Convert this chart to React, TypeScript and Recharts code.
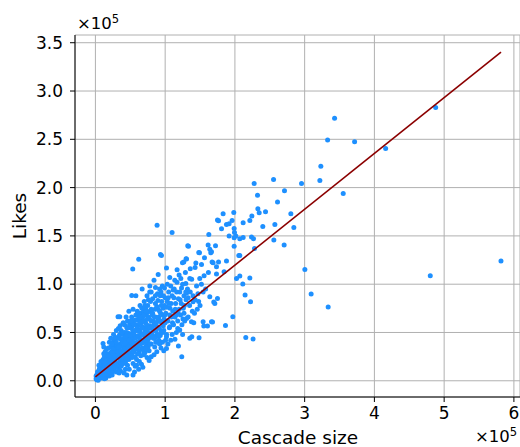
import React from 'react';
import { ScatterChart, Scatter, XAxis, YAxis, CartesianGrid } from 'recharts';

// cascade size vs. likes, one [cascadeSize, likes] pair per post
const xTicks = [0, 100000, 200000, 300000, 400000, 500000, 600000];
const yTicks = [0, 50000, 100000, 150000, 200000, 250000, 300000, 350000];

// small cascades, bulk of the posts
const denseCore: [number, number][] = [
  [1000, 2000], [2000, 1000], [3000, 4000], [4000, 2000], [5000, 6000], [6000, 3000], [7000, 8000], [8000, 5000],
  [9000, 3000], [2000, 6000], [5000, 11000], [8000, 12000], [3000, 9000], [10000, 7000], [7000, 15000], [1000, 5000],
  [9000, 10000], [6000, 13000], [10000, 16000], [4000, 500], [3000, 1000], [6000, 7000], [9000, 6000], [12000, 4000],
  [11000, 5000], [12000, 9000], [13000, 14000], [14000, 6000], [15000, 11000], [16000, 18000], [17000, 8000], [18000, 13000],
  [19000, 20000], [11000, 22000], [13000, 25000], [15000, 3000], [17000, 24000], [19000, 10000], [20000, 15000], [12000, 18000],
  [14000, 30000], [18000, 28000], [16000, 12000], [20000, 5000], [10900, 38700], [14000, 10000], [16000, 7000], [18000, 17000],
  [21000, 12000], [22000, 19000], [23000, 8000], [24000, 25000], [25000, 16000], [26000, 31000], [27000, 10000], [28000, 21000],
  [29000, 14000], [30000, 27000], [22000, 35000], [25000, 40000], [28000, 36000], [21000, 28000], [24000, 6000], [26000, 22000],
  [29000, 33000], [23000, 30000], [27000, 43000], [30000, 9000], [21000, 9000], [23000, 15000], [25000, 11000], [27000, 18000],
  [31000, 18000], [32000, 24000], [33000, 13000], [34000, 32000], [35000, 20000], [36000, 38000], [37000, 15000], [38000, 27000],
  [39000, 22000], [40000, 35000], [32000, 44000], [32400, 66300], [34900, 66300], [35000, 48000], [38000, 42000], [39600, 59400],
  [33000, 28000], [36000, 10000], [39000, 31000], [31000, 37000], [37000, 52000], [34000, 8000], [40000, 18000], [29000, 24000],
  [41000, 25000], [42000, 30000], [43000, 19000], [44000, 40000], [45000, 27000], [46000, 33000], [47000, 45000], [48000, 22000],
  [49000, 37000], [50000, 29000], [42000, 50000], [42000, 57700], [45000, 55000], [48000, 49000], [43000, 12000], [46000, 16000],
  [50000, 42000], [44000, 35000], [47000, 24000], [41000, 44000], [49000, 58000], [45000, 6000], [43000, 33000], [46000, 38000],
  [51000, 35000], [52000, 28000], [53000, 44000], [54000, 31000], [55000, 50000], [56000, 38000], [57000, 25000], [58000, 46000],
  [59000, 33000], [60000, 40000], [52000, 56000], [55000, 62000], [58000, 58000], [53900, 5900], [54000, 18000], [57000, 15000],
  [60000, 52000], [53000, 36000], [56000, 47000], [59000, 22000], [51000, 48000], [58000, 68000], [51000, 26000], [57000, 34000],
  [61000, 36000], [62000, 45000], [63000, 30000], [64000, 52000], [65000, 41000], [66000, 60000], [67000, 34000], [68000, 48000],
  [69000, 27000], [70000, 55000], [62000, 65000], [65000, 70000], [68000, 66000], [63000, 20000], [66000, 17000], [70000, 40000],
  [61000, 57000], [64000, 38000], [67000, 56000], [69000, 72000], [70000, 30000], [62000, 38000], [66000, 33000], [68000, 42000],
  [71000, 45000], [72000, 60000], [73000, 36000], [74000, 52000], [75000, 42000], [76000, 66000], [77000, 31000], [78000, 57000],
  [79000, 48000], [80000, 62000], [72000, 75000], [75000, 78000], [78000, 72000], [74000, 24000], [77000, 21000], [80000, 38000],
  [73000, 68000], [76000, 50000], [79000, 82000], [71000, 29000], [72000, 48000], [74000, 40000], [76000, 55000], [78000, 46000],
  [81000, 50000], [82000, 70000], [83000, 44000], [84000, 58000], [85000, 35000], [86000, 66000], [87000, 52000], [88000, 77000],
  [89000, 40000], [90000, 63000], [82000, 85000], [86000, 88000], [89000, 90000], [84000, 27000], [88000, 30000], [83000, 62000],
  [87000, 46000], [90000, 74000], [82000, 54000], [85000, 60000], [88000, 48000],
  [91000, 55000], [92000, 72000], [93000, 47000], [94000, 61000], [95000, 82000], [96000, 40000], [97000, 68000], [98000, 52000],
  [99000, 78000], [100000, 60000], [92000, 95000], [96000, 98000], [94000, 34000], [98000, 31000], [93000, 88000], [97000, 57000],
  [100000, 86000], [91000, 66000], [94000, 52000], [97000, 75000],
  [15000, 20000], [20000, 23000], [25000, 33000], [30000, 40000], [36000, 43000], [40000, 48000], [45000, 50000], [50000, 55000],
  [55000, 58000], [60000, 63000], [65000, 64000], [70000, 68000], [75000, 71000], [80000, 74000],
  [4500, 9000], [7500, 4000], [11500, 13000], [13500, 19000], [16500, 15000], [19500, 26000], [21500, 17000], [24500, 20000],
  [26500, 13000], [28500, 29000], [31500, 26000], [33500, 35000], [35500, 15000], [37500, 24000], [39500, 40000], [41500, 33000],
  [43500, 27000], [45500, 42000], [47500, 35000], [49500, 47000], [51500, 40000], [53500, 52000], [55500, 30000], [57500, 44000],
  [59500, 55000], [61500, 47000], [63500, 60000], [65500, 48000], [67500, 39000], [69500, 62000], [71500, 52000], [73500, 58000],
  [75500, 35000], [77500, 64000], [79500, 55000], [81500, 68000], [83500, 52000], [85500, 74000], [87500, 60000], [89500, 83000],
  [91500, 48000], [93500, 70000], [95500, 61000], [97500, 88000], [99500, 68000], [56000, 9000], [62000, 12000], [68000, 14000],
  [80000, 25000], [92000, 38000], [46000, 62000], [52000, 66000], [60000, 72000], [64000, 78000], [70000, 82000], [74000, 88000],
  [80000, 92000], [67000, 95000], [58000, 88000], [48000, 72000], [40000, 60000], [30000, 52000], [26000, 48000], [20000, 40000],
  [16000, 33000], [8000, 20000], [5000, 16000], [12000, 28000], [33000, 54000], [44000, 66000], [54000, 74000], [84000, 104000],
  [90000, 110000], [78000, 98000],
  [2500, 3500], [6500, 10500], [10500, 11500], [13000, 2000], [17500, 11000], [22500, 13000], [24000, 29000], [27500, 26000],
  [30500, 16000], [32500, 30000], [34500, 24000], [36500, 31000], [38500, 18000], [40500, 28000], [42500, 39000], [44500, 22000],
  [46500, 30000], [48500, 42000], [50500, 34000], [52500, 24000], [54500, 40000], [56500, 52000], [58500, 38000], [60500, 28000],
  [62500, 52000], [64500, 43000], [66500, 55000], [68500, 34000], [70500, 50000], [72500, 42000], [74500, 64000], [76500, 44000],
  [78500, 38000], [80500, 55000], [82500, 46000], [84500, 66000], [86500, 40000], [88500, 56000], [90500, 46000], [92500, 62000],
  [94500, 78000], [96500, 50000], [98500, 64000], [18500, 34000], [23500, 38000], [28500, 45000], [34500, 47000], [38500, 50000],
  [43500, 46000], [47500, 55000], [53000, 60000], [57000, 63000], [62000, 70000], [66500, 75000], [71000, 78000], [76000, 84000],
  [41000, 8000], [48500, 12000], [59000, 16000], [65000, 26000], [72000, 33000], [85000, 44000], [91000, 42000], [12000, 35000],
  [22000, 44000], [35500, 57000], [50500, 62000], [63000, 66000], [73000, 72000], [86000, 80000], [94000, 92000], [99000, 96000],
];

// posts above the main band on the left
const upperSpread: [number, number][] = [
  [88400, 160900], [109900, 153600], [93300, 130800], [94700, 129800], [62100, 125700], [53500, 115600],
  [101900, 116700], [106600, 107000], [52100, 88400], [77900, 91800], [86100, 96700],
];

// mid-sized cascades, 1e5 to 2.1e5
const midRange: [number, number][] = [
  [101000, 70000], [102000, 48000], [103000, 82000], [104000, 62000], [105000, 92000], [106000, 55000], [107000, 75000],
  [108000, 42000], [109000, 66000], [110000, 88000], [103000, 100000], [101900, 45600], [106600, 55900], [101900, 33500],
  [108000, 98000], [104000, 38000], [102500, 76000], [104500, 86000], [106500, 68000], [108500, 80000], [100500, 42000],
  [111000, 72000], [112000, 58000], [113000, 95000], [114000, 66000], [115000, 80000], [116000, 50000], [117000, 102000],
  [118000, 62000], [119000, 85000], [120000, 74000], [113800, 104200], [120000, 109400], [117100, 114900], [114000, 43000],
  [120900, 52500], [119000, 36000], [110500, 60000], [112500, 86000], [114500, 74000], [116500, 92000], [118500, 70000],
  [110000, 48000], [118000, 54000], [105500, 80000], [111500, 94000], [116000, 68000],
  [121000, 92000], [122000, 68000], [123000, 80000], [124000, 58000], [125000, 100000], [126000, 75000], [127000, 88000],
  [128000, 62000], [129000, 112000], [130000, 84000], [123800, 24800], [124800, 122200], [126700, 122900], [130600, 126000],
  [130600, 90500], [129600, 100800], [130600, 64600], [121500, 84000], [123500, 96000], [125500, 64000], [127500, 78000],
  [129500, 92000], [125000, 48000], [122500, 106000], [127000, 70000],
  [132000, 95000], [135000, 78000], [138000, 105000], [140000, 88000], [142000, 70000], [145000, 98000], [148000, 82000],
  [135300, 106000], [132400, 139800], [133400, 139400], [130000, 126300], [137700, 61100], [138200, 45600], [140000, 81800],
  [142900, 117400], [135300, 43900], [148600, 44500], [148200, 132900], [149200, 132500], [149600, 106000], [136000, 116000],
  [144000, 122000], [146000, 74000], [133000, 86000], [136000, 92000], [139000, 72000], [143000, 84000], [147000, 90000],
  [150000, 78000], [133000, 66000], [141000, 60000],
  [152100, 120500], [154400, 91800], [154400, 61100], [155400, 56600], [155800, 108700], [156400, 127400], [160700, 56600],
  [161600, 140500], [162600, 151500], [164000, 136300], [164000, 87000], [165400, 132500], [166400, 133500], [166400, 61100],
  [167300, 122900], [167900, 60800], [168700, 122200], [169700, 81500], [152000, 100000], [158000, 95000], [162000, 112000],
  [171200, 80100], [172200, 139800], [173600, 118000], [173600, 110500], [175000, 85300], [175000, 166400], [176500, 165600],
  [176500, 122900], [180800, 157400], [183100, 172900], [184500, 112800], [186500, 57300], [187900, 161900], [187900, 123900],
  [191700, 162500], [191700, 149800], [196000, 166000], [197000, 66300], [198400, 174300], [198900, 157700], [198900, 148000],
  [198900, 139400], [199400, 153600], [201300, 149800], [202300, 106000], [205600, 129800],
];

// large cascades
const outliers: [number, number][] = [
  [487800, 283000], [342900, 271900], [332900, 249200], [371600, 247400], [416100, 240600], [323200, 222200],
  [321800, 207400], [295500, 204300], [255400, 208500], [227600, 204300], [271100, 196700], [355300, 194000],
  [232400, 192200], [261100, 185000], [232900, 178100], [234800, 173900], [243900, 175000], [280200, 172900],
  [224300, 170500], [221400, 166000], [211800, 163600], [257300, 161900], [240000, 159800], [284500, 158800],
  [211800, 148400], [207000, 147000], [223800, 148800], [226700, 147000], [255800, 145700], [270600, 140500],
  [228100, 137000], [207000, 129800], [300300, 115300], [480100, 108700], [581500, 123900], [207000, 108400],
  [221400, 106300], [211300, 100100], [214600, 88700], [222400, 81800], [309300, 89800], [333700, 76300],
  [215600, 44900], [226100, 43200],
];

// least-squares fit, end points
const fitLine: [number, number][] = [[0, 4100], [581500, 340300]];

const toXY = (rows: [number, number][]) => rows.map(([x, y]) => ({ x, y }));
const posts = toXY([...denseCore, ...upperSpread, ...midRange, ...outliers]);
const fit = toXY(fitLine);

const FONT = '"DejaVu Sans", sans-serif';
const tickStyle = { fill: '#000', fontSize: 17, fontFamily: FONT };

const Dot = (props: any) => <circle cx={props.cx} cy={props.cy} r={2.5} fill="#1e90ff" />;
const NoDot = () => <g />;

const Exponent = ({ style }: { style: React.CSSProperties }) => (
  <div style={{ position: 'absolute', fontFamily: FONT, fontSize: 16.5, lineHeight: 1, whiteSpace: 'nowrap', ...style }}>
    ×10<sup style={{ fontSize: '0.7em', verticalAlign: '0.55em', lineHeight: 0 }}>5</sup>
  </div>
);

export default function App() {
  return (
    <div style={{ position: 'absolute', left: 0, top: 0, width: 520, height: 447, background: '#fff', overflow: 'hidden' }}>
      <ScatterChart width={520} height={447} margin={{ top: 35, right: 0, bottom: 0, left: 5 }}>
        <CartesianGrid stroke="#b0b0b0" strokeWidth={1} />
        <XAxis
          type="number"
          dataKey="x"
          domain={[-29270, 608750]}
          ticks={xTicks}
          interval={0}
          allowDataOverflow
          height={50}
          tickSize={5}
          tickMargin={5}
          tick={tickStyle}
          tickFormatter={(v: number) => String(v / 100000)}
          axisLine={{ stroke: '#000' }}
          tickLine={{ stroke: '#000' }}
        />
        <YAxis
          type="number"
          dataKey="y"
          domain={[-16800, 358000]}
          ticks={yTicks}
          interval={0}
          allowDataOverflow
          width={70}
          tickSize={5}
          tickMargin={7}
          tick={tickStyle}
          tickFormatter={(v: number) => (v / 100000).toFixed(1)}
          axisLine={{ stroke: '#000' }}
          tickLine={{ stroke: '#000' }}
        />
        <Scatter data={posts} shape={Dot} isAnimationActive={false} />
        <Scatter
          data={fit}
          shape={NoDot}
          line={{ stroke: '#8b0000', strokeWidth: 1.6 }}
          isAnimationActive={false}
        />
      </ScatterChart>

      <div
        style={{
          position: 'absolute', left: 20, top: 215.5, fontFamily: FONT, fontSize: 18.5, lineHeight: 1,
          whiteSpace: 'nowrap', transform: 'translate(-50%, -50%) rotate(-90deg)',
        }}
      >
        Likes
      </div>
      <div
        style={{
          position: 'absolute', left: 298, top: 429, fontFamily: FONT, fontSize: 18.5, lineHeight: 1,
          whiteSpace: 'nowrap', transform: 'translateX(-50%)',
        }}
      >
        Cascade size
      </div>
      <Exponent style={{ left: 77, top: 16 }} />
      <Exponent style={{ left: 475, top: 429 }} />
    </div>
  );
}
